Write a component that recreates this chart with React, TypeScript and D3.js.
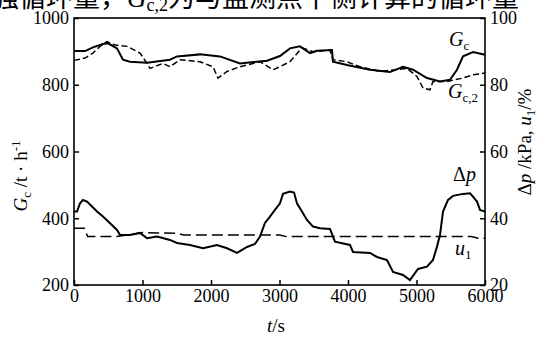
import React, { useEffect, useRef } from 'react';
import * as d3 from 'd3';

// circulation flow (left axis, t/h)
const gcTime = [0, 161, 277, 423, 496, 628, 715, 818, 1066, 1401, 1504, 1839, 2131, 2423, 2818, 3007, 3153, 3299, 3445, 3547, 3766, 3781, 3985, 4321, 4613, 4803, 4949, 5153, 5343, 5489, 5591, 5679, 5825, 6000];
const gcValues = [901, 901, 912, 922, 924, 909, 875, 869, 866, 875, 885, 891, 885, 864, 872, 886, 909, 915, 895, 902, 904, 869, 859, 845, 838, 854, 845, 820, 810, 815, 845, 885, 898, 890];

const gc2Time = [0, 161, 277, 380, 482, 599, 774, 964, 1066, 1110, 1299, 1401, 1547, 1839, 2029, 2102, 2234, 2423, 2715, 2905, 3007, 3153, 3299, 3343, 3489, 3737, 3781, 3985, 4175, 4467, 4861, 5007, 5095, 5197, 5241, 5445, 5679, 5825, 6000];
const gc2Values = [873, 880, 895, 915, 929, 919, 915, 895, 864, 849, 864, 854, 875, 869, 854, 820, 840, 854, 869, 845, 854, 869, 904, 910, 899, 904, 875, 869, 854, 840, 849, 825, 790, 785, 810, 810, 820, 830, 835];

// pressure drop (right axis, kPa)
const dpTime = [0, 44, 88, 131, 190, 263, 336, 423, 526, 628, 672, 818, 964, 1066, 1212, 1401, 1504, 1693, 1883, 2088, 2234, 2380, 2526, 2642, 2715, 2788, 2861, 2934, 3007, 3051, 3153, 3212, 3255, 3328, 3401, 3489, 3591, 3737, 3781, 3810, 4029, 4073, 4321, 4423, 4569, 4657, 4803, 4905, 5022, 5153, 5241, 5299, 5343, 5387, 5460, 5533, 5679, 5781, 5825, 5883, 5927, 6000];
const dpValues = [42, 42, 44.5, 45.5, 45, 43.5, 42, 40.5, 38.5, 36.5, 35, 35, 35.6, 34, 34.5, 33.5, 32.6, 32, 31, 32, 31, 29.6, 31.4, 32.3, 34.5, 38.6, 40.5, 42.5, 44.5, 47.3, 48, 47.7, 44.5, 42, 39.5, 37.5, 37, 36.8, 34.5, 33, 32, 29.9, 29.6, 28.4, 27.5, 23.9, 23, 21.5, 24.8, 25.5, 27.5, 31.5, 35, 42, 45.5, 46.7, 47.3, 47.5, 46.5, 45, 42.5, 42];

// valve opening (right axis, %)
const u1Time = [0, 150, 200, 600, 800, 1000, 1500, 1600, 3000, 3100, 5800, 5900, 6000];
const u1Values = [37, 37, 34.5, 34.5, 35, 35.7, 35.5, 35, 35, 34.5, 34.5, 34, 34];

const xTicks = [0, 1000, 2000, 3000, 4000, 5000, 6000];
const leftTicks = [200, 400, 600, 800, 1000];
const rightTicks = [20, 40, 60, 80, 100];

const FONT = 'Liberation Serif, Times New Roman, serif';

const App = () => {
    const ref = useRef<SVGSVGElement>(null);

    useEffect(() => {
        const svg = d3.select(ref.current);
        svg.selectAll('*').remove();
        svg.attr('font-family', FONT);

        const margin = { top: 18, right: 56, bottom: 52, left: 74 };
        const W = 541;
        const H = 337;

        const x = d3.scaleLinear().domain([0, 6000]).range([margin.left, W - margin.right]);
        const yL = d3.scaleLinear().domain([200, 1000]).range([H - margin.bottom, margin.top]);
        const yR = d3.scaleLinear().domain([20, 100]).range([H - margin.bottom, margin.top]);

        // cut-off line of text above the figure
        const top = svg.append('text')
            .attr('x', -8)
            .attr('y', 7)
            .attr('font-family', 'Noto Sans CJK SC, sans-serif')
            .attr('font-size', 27);
        top.append('tspan').text('强循环量，');
        top.append('tspan').attr('font-family', FONT).attr('font-style', 'italic').text('G');
        top.append('tspan').attr('font-family', FONT).attr('font-size', 18).attr('dy', 4).text('c,2');
        top.append('tspan').attr('dy', -4).text('为与监测点下侧计算的循环量');

        // axes
        const axisStyle = (g: any) => {
            g.attr('font-family', FONT).attr('font-size', 18);
            g.select('.domain').remove();
            g.selectAll('line').attr('stroke', '#000').attr('stroke-width', 1.5);
            g.selectAll('text').attr('fill', '#000');
        };

        svg.append('g')
            .attr('transform', `translate(0,${H - margin.bottom})`)
            .call(d3.axisBottom(x).tickValues(xTicks).tickSize(-5).tickPadding(4).tickFormat(d3.format('d')))
            .call(axisStyle);

        svg.append('g')
            .attr('transform', `translate(${margin.left},0)`)
            .call(d3.axisLeft(yL).tickValues(leftTicks).tickSize(-5).tickPadding(5).tickFormat(d3.format('d')))
            .call(axisStyle);

        svg.append('g')
            .attr('transform', `translate(${W - margin.right},0)`)
            .call(d3.axisRight(yR).tickValues(rightTicks).tickSize(-5).tickPadding(5).tickFormat(d3.format('d')))
            .call(axisStyle);

        // frame
        svg.append('rect')
            .attr('x', margin.left)
            .attr('y', margin.top)
            .attr('width', W - margin.right - margin.left)
            .attr('height', H - margin.bottom - margin.top)
            .attr('fill', 'none')
            .attr('stroke', '#000')
            .attr('stroke-width', 1.6);

        // series
        const drawLine = (ts: number[], vs: number[], y: any, width: number, dash: string | null) => {
            const line = d3.line<number>()
                .x((d, i) => x(ts[i]))
                .y((d) => y(d));
            svg.append('path')
                .attr('d', line(vs))
                .attr('fill', 'none')
                .attr('stroke', '#000')
                .attr('stroke-width', width)
                .attr('stroke-linejoin', 'miter')
                .attr('stroke-dasharray', dash);
        };

        drawLine(gc2Time, gc2Values, yL, 1.5, '6,3');
        drawLine(gcTime, gcValues, yL, 2, null);
        drawLine(u1Time, u1Values, yR, 1.5, '11,5');
        drawLine(dpTime, dpValues, yR, 2, null);

        // series labels
        const label = (lx: number, ly: number, parts: [string, string][]) => {
            const t = svg.append('text')
                .attr('x', lx)
                .attr('y', ly)
                .attr('font-size', 20);
            parts.forEach(([kind, s]) => {
                const sp = t.append('tspan').text(s);
                if (kind === 'i') sp.attr('font-style', 'italic');
                if (kind === 'sub') sp.attr('font-size', 13).attr('dy', 4);
            });
            return t;
        };

        label(449, 46, [['i', 'G'], ['sub', 'c']]);
        label(448, 98, [['i', 'G'], ['sub', 'c,2']]);
        label(453, 181, [['n', 'Δ'], ['i', 'p']]);
        label(455, 255, [['i', 'u'], ['sub', '1']]);

        // axis titles
        const xt = svg.append('text')
            .attr('x', 276)
            .attr('y', 332)
            .attr('text-anchor', 'middle')
            .attr('font-size', 19);
        xt.append('tspan').attr('font-style', 'italic').text('t');
        xt.append('tspan').text('/s');

        const yt = svg.append('text')
            .attr('transform', 'translate(27,176) rotate(-90)')
            .attr('text-anchor', 'middle')
            .attr('font-size', 19);
        yt.append('tspan').attr('font-style', 'italic').text('G');
        yt.append('tspan').attr('font-size', 13).attr('dy', 4).text('c');
        yt.append('tspan').attr('dy', -4).text(' /t · h');
        yt.append('tspan').attr('font-size', 13).attr('dy', -7).text('-1');

        const yr = svg.append('text')
            .attr('transform', 'translate(531,142) rotate(-90)')
            .attr('text-anchor', 'middle')
            .attr('font-size', 19);
        yr.append('tspan').text('Δ');
        yr.append('tspan').attr('font-style', 'italic').text('p');
        yr.append('tspan').text(' /kPa, ');
        yr.append('tspan').attr('font-style', 'italic').text('u');
        yr.append('tspan').attr('font-size', 13).attr('dy', 4).text('1');
        yr.append('tspan').attr('dy', -4).text('/%');
    }, []);

    return (
        <svg
            ref={ref}
            width={541}
            height={337}
            style={{ position: 'absolute', left: 0, top: 0, background: '#fff' }}
        />
    );
};

export default App;
